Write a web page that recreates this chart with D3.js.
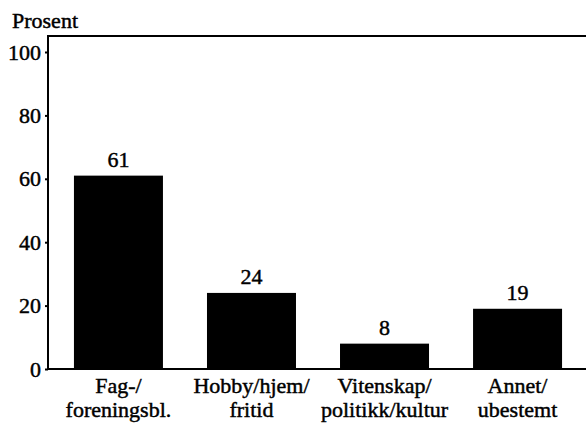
<!DOCTYPE html>
<html><head><meta charset="utf-8">
<script src="https://cdn.jsdelivr.net/npm/d3@7"></script>
<style>
html,body{margin:0;padding:0;background:#fff;}
</style></head>
<body>
<svg id="chart" width="586" height="424"></svg>
<script>
const categories = [["Fag-/","foreningsbl."],["Hobby/hjem/","fritid"],["Vitenskap/","politikk/kultur"],["Annet/","ubestemt"]];
const values = [61, 24, 8, 19];
const yTicks = [0, 20, 40, 60, 80, 100];
const yTitle = "Prosent";

(function () {
const FONT = "'Liberation Serif', 'Times New Roman', Times, 'DejaVu Serif', serif";
const svg = d3.select("#chart");
const mLeft = 48, mRight = 586, mTop = 36, mBottom = 369;
const fs = 22;
const txt = sel => sel.style("font-family", FONT).style("font-size", fs + "px")
  .attr("fill", "#000").attr("stroke", "#000").attr("stroke-width", 0.45);

const keys = categories.map(c => c.join(" "));
const x = d3.scaleBand().domain(keys).range([52, 584]).paddingInner(0.331).paddingOuter(0.165);
const y = d3.scaleLinear().domain([0, 100]).range([mBottom, 52]);

svg.append("line").attr("x1", mLeft).attr("x2", mRight).attr("y1", mTop).attr("y2", mTop)
  .attr("stroke", "#000").attr("stroke-width", 2);

svg.selectAll("rect.bar").data(values).join("rect").attr("class","bar")
  .attr("x", (d,i) => x(keys[i]))
  .attr("width", x.bandwidth())
  .attr("y", d => y(d))
  .attr("height", d => y(0) - y(d))
  .attr("fill", "#000");

svg.selectAll("text.val").data(values).join("text").attr("class","val")
  .attr("x", (d,i) => x(keys[i]) + x.bandwidth()/2)
  .attr("y", d => y(d) - 9)
  .attr("text-anchor", "middle")
  .call(txt)
  .text(d => d);

const yAxis = d3.axisLeft(y).tickValues(yTicks).tickSize(3).tickPadding(4).tickFormat(d3.format("d"));
const gy = svg.append("g").attr("transform", `translate(${mLeft},0)`).call(yAxis);
gy.select(".domain").remove();
gy.selectAll(".tick line").attr("stroke", "#000").attr("stroke-width", 2);
gy.selectAll(".tick text").call(txt);
svg.append("line").attr("x1", mLeft).attr("x2", mLeft).attr("y1", mTop - 1).attr("y2", mBottom + 1)
  .attr("stroke", "#000").attr("stroke-width", 2);

svg.append("line").attr("x1", mLeft - 1).attr("x2", mRight).attr("y1", mBottom).attr("y2", mBottom)
  .attr("stroke", "#000").attr("stroke-width", 2);
const gx = svg.append("g");
categories.forEach((c, i) => {
  const cx = x(keys[i]) + x.bandwidth()/2;
  const t = gx.append("text")
    .attr("x", cx)
    .attr("y", 393)
    .attr("text-anchor", "middle")
    .call(txt);
  c.forEach((line, j) => {
    t.append("tspan").attr("x", cx).attr("dy", j === 0 ? 0 : 24).text(line);
  });
});

svg.append("text").attr("x", 12).attr("y", 28).call(txt).text(yTitle);
})();
</script>
</body></html>
